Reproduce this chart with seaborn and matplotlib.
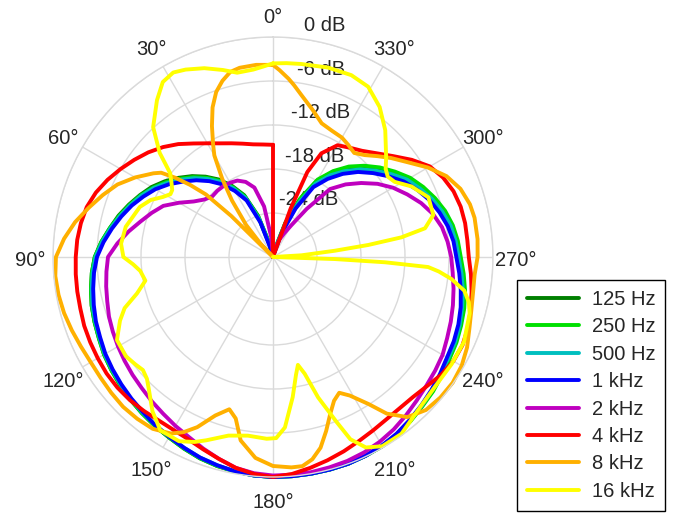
import numpy as np
import matplotlib
matplotlib.use("Agg")
import matplotlib.pyplot as plt
from matplotlib.transforms import offset_copy
import seaborn as sns

sns.set_style("white")
plt.rcParams["font.family"] = ["Liberation Sans", "DejaVu Sans"]

# polar response of the microphone, dB re. maximum, angle in degrees (counter-clockwise from top)
bands = ["125 Hz", "250 Hz", "500 Hz", "1 kHz", "2 kHz", "4 kHz", "8 kHz", "16 kHz"]
colors = ["#007f00", "#00e000", "#00bfbf", "#0000ff", "#bf00bf", "#ff0000", "#ffb000", "#ffff00"]

ang_5 = list(range(0, 360, 5))

db_125 = [-30, -30, -30, -28.0, -24.0, -20.7, -18.8, -17.1, -15.7, -14.4, -13.2, -12.0,
          -10.9, -10.0, -9.1, -8.2, -7.4, -6.5, -5.7, -5.2, -4.8, -4.4, -4.1, -3.8,
          -3.4, -3.1, -2.8, -2.5, -2.2, -1.9, -1.6, -1.2, -0.8, -0.5, -0.3, -0.1,
          0.0, 0.0, 0.0, 0.0, 0.0, -0.1, -0.2, -0.5, -0.9, -1.3, -1.6, -2.0,
          -2.3, -2.5, -2.8, -3.1, -3.6, -4.1, -4.6, -4.9, -5.3, -5.9, -6.7, -7.6,
          -8.6, -9.9, -11.2, -12.6, -14.1, -15.9, -18.0, -21.4, -25.2, -28.8, -30, -30]

db_250 = [-30, -30, -30, -28.2, -24.2, -20.9, -19.0, -17.3, -15.9, -14.6, -13.4, -12.2,
          -11.1, -10.1, -9.2, -8.3, -7.4, -6.5, -5.7, -5.2, -4.8, -4.4, -4.1, -3.8,
          -3.4, -3.1, -2.8, -2.5, -2.2, -1.9, -1.6, -1.2, -0.8, -0.5, -0.3, -0.1,
          0.0, 0.0, 0.0, 0.0, 0.0, -0.1, -0.2, -0.4, -0.8, -1.2, -1.5, -1.9,
          -2.2, -2.4, -2.7, -3.0, -3.4, -3.9, -4.4, -4.7, -5.1, -5.7, -6.5, -7.4,
          -8.4, -9.7, -11.0, -12.4, -13.9, -15.7, -17.8, -21.2, -25.0, -28.6, -30, -30]

db_500 = [-30, -30, -30, -28.5, -24.5, -21.1, -19.2, -17.5, -16.1, -14.8, -13.6, -12.4,
          -11.2, -10.2, -9.3, -8.4, -7.5, -6.6, -5.8, -5.3, -4.9, -4.5, -4.2, -3.9,
          -3.5, -3.2, -2.9, -2.6, -2.3, -2.0, -1.7, -1.3, -0.9, -0.6, -0.3, -0.1,
          0.0, 0.0, 0.0, 0.0, 0.0, -0.1, -0.3, -0.5, -0.9, -1.3, -1.7, -2.1,
          -2.4, -2.6, -2.9, -3.3, -3.7, -4.2, -4.7, -5.0, -5.4, -6.1, -6.9, -7.9,
          -8.9, -10.3, -11.7, -13.1, -14.7, -16.4, -18.5, -22.0, -25.8, -29.0, -30, -30]

db_1k = [-30, -30, -30, -29.0, -25.0, -21.5, -19.6, -17.9, -16.5, -15.2, -14.0, -12.7,
         -11.5, -10.5, -9.5, -8.6, -7.7, -6.8, -6.0, -5.5, -5.1, -4.7, -4.3, -4.0,
         -3.6, -3.3, -3.0, -2.7, -2.4, -2.0, -1.7, -1.3, -0.9, -0.6, -0.3, -0.1,
         0.0, 0.0, 0.0, 0.0, 0.0, -0.1, -0.3, -0.6, -1.0, -1.4, -1.8, -2.2,
         -2.6, -2.8, -3.1, -3.5, -4.0, -4.5, -5.0, -5.3, -5.8, -6.5, -7.3, -8.3,
         -9.4, -10.8, -12.2, -13.6, -15.2, -17.0, -19.0, -22.7, -26.5, -29.7, -30, -30]

db_2k = [-30, -27.3, -23.0, -20.2, -19.1, -18.5, -18.3, -18.2, -18.2, -18.3, -17.8, -16.8,
         -15.2, -13.5, -12.4, -11.3, -10.0, -8.7, -7.5, -7.2, -6.9, -6.6, -6.2, -5.9,
         -5.6, -5.3, -5.0, -4.7, -4.3, -3.9, -3.4, -2.9, -2.2, -1.5, -0.8, -0.4,
         -0.2, -0.2, -0.2, -0.3, -0.4, -0.6, -0.9, -1.3, -1.8, -2.3, -2.7, -3.0,
         -3.3, -3.8, -4.2, -4.6, -5.0, -5.4, -5.7, -6.1, -6.6, -7.4, -8.5, -9.8,
         -11.1, -12.6, -14.3, -16.0, -17.9, -22.0, -25.0, -26.5, -27.5, -28.7, -30, -30]

ang_4k = [0, 5, 10, 15, 20, 25, 30, 35, 40, 45, 50, 55, 60, 65, 70, 75, 80, 85, 90,
          95, 100, 105, 110, 115, 120, 125, 130, 135, 140, 145, 150, 155, 160, 165, 170, 175,
          180, 185, 190, 195, 200, 205, 210, 215, 220, 225, 230, 235, 240, 245, 250, 255,
          260, 265, 270, 275, 280, 285, 290, 295, 300, 305, 310, 315, 320, 325, 330, 335,
          338, 340, 342, 350, 355]
db_4k = [-14.7, -14.6, -14.4, -14.0, -13.5, -12.9, -12.1, -11.1, -9.9, -8.8, -7.8, -6.9,
         -6.0, -5.1, -4.3, -3.7, -3.4, -3.2, -3.1, -3.0, -2.9, -2.8, -2.6, -2.5,
         -2.4, -2.3, -2.3, -2.4, -2.6, -2.8, -2.8, -2.6, -2.1, -1.5, -0.8, -0.3,
         0.0, -0.3, -0.8, -1.3, -1.8, -2.3, -2.7, -3.0, -3.1, -3.0, -2.6, -2.0,
         -1.6, -1.5, -1.7, -2.1, -2.5, -2.9, -3.3, -3.4, -3.4, -3.5, -3.8, -4.4,
         -5.3, -6.9, -8.6, -10.0, -11.1, -11.8, -12.4, -14.4, -17.5, -23.0, -30, -30, -30]

ang_8k = [0, 5, 10, 13, 16, 19, 22, 25, 28, 30, 33, 36, 40, 43, 44.5, 45.5, 47, 49, 51, 53,
          55, 60, 65, 70, 75, 80, 85, 90, 95, 100, 105, 110, 115, 120, 125, 130, 135, 140,
          145, 150, 153, 156, 160, 164, 167, 170, 175, 180, 185, 188, 191, 194, 197, 200,
          203, 206, 209, 213, 216, 220, 225, 230, 235, 240, 245, 250, 255, 260, 265, 270,
          275, 281, 285, 290, 295, 300, 305, 310, 314, 318, 322, 326, 330, 335, 340, 345,
          350, 353, 355, 358]
db_8k = [-3.8, -3.7, -3.8, -4.1, -5.0, -6.2, -8.0, -10.3, -12.6, -14.0, -17.3, -20.5, -24.3,
         -27.5, -30, -22.0, -17.5, -15.0, -12.8, -10.9,
         -10.1, -8.3, -6.6, -5.3, -4.0, -2.6, -1.4, -0.4, -0.2, -0.3, -0.5, -0.8, -1.1, -1.3,
         -1.3, -1.2, -1.1, -1.2, -1.4, -2.2, -3.2, -4.6, -7.0, -8.4, -7.4, -4.6, -2.5, -1.5,
         -1.2, -1.2, -1.9, -3.2, -5.2, -7.2, -8.7, -9.4, -8.4, -6.1, -3.6, -1.5, -0.5, -0.2,
         -0.1, -0.3, -0.8, -1.5, -2.0, -2.3, -2.4, -2.1, -2.0, -2.0, -2.2, -2.8, -3.9, -5.6,
         -7.5, -9.0, -10.2, -11.3, -12.0, -11.6, -11.2, -11.0, -10.6, -9.2, -7.6, -6.4, -5.6,
         -4.5]

ang_16k = [0, 3, 6, 11, 15, 20, 25, 28.4, 32.2, 36.5, 42.7, 47.4, 50.8, 54, 56.4, 58.5,
           61.4, 65, 69.4, 78.4, 85, 90, 93, 96, 100.5, 105, 109, 112.6, 118, 124, 128, 131,
           134, 137, 142, 147, 153, 157, 160, 166, 172, 178, 181, 184, 188, 191, 193, 195.2,
           197.8, 201, 203, 206, 210, 216, 223, 231, 239, 246, 254, 257, 260, 263, 265,
           266.3, 267.3, 268.1, 268.8, 272, 273.4, 275.8, 277.2, 278.7, 280.7, 284.7, 291,
           297, 301.7, 305, 308, 311.5, 318.5, 324.6, 330.8, 336.7, 343.8, 351.7, 356]
db_16k = [-3.6, -4.0, -4.3, -4.4, -3.6, -2.6, -1.8, -1.4, -1.8, -3.4, -5.9, -9.0, -11.9,
          -12.9, -13.5, -13.6, -12.9, -11.6, -10.6, -9.5, -9.2, -9.6, -10.9, -11.8, -12.3,
          -10.8, -8.6, -7.4, -5.9, -5.8, -6.2, -6.5, -6.1, -5.2, -3.3, -1.8, -1.8, -2.6,
          -3.4, -4.9, -5.4, -5.2, -5.3, -6.7, -10.7, -13.6, -14.9, -13.5, -9.9, -6.0, -3.0,
          -1.1, -0.2, -0.2, -1.2, -1.7, -1.6, -1.5, -2.1, -2.6, -3.5, -5.5, -7.3, -8.8,
          -14.7, -21.6, -30, -30, -26.1, -21.5, -16.9, -12.3, -8.9, -7.4, -7.3, -8.8, -10.5,
          -10.9, -10.5, -9.4, -6.9, -4.9, -3.4, -3.0, -3.1, -3.4, -3.5]

series = [
    (ang_5, db_125), (ang_5, db_250), (ang_5, db_500), (ang_5, db_1k),
    (ang_5, db_2k), (ang_4k, db_4k), (ang_8k, db_8k), (ang_16k, db_16k),
]
r_ticks = [-24, -18, -12, -6, 0]
theta_ticks = list(range(0, 360, 30))

fig = plt.figure(figsize=(6.74, 5.15), dpi=100)
ax = fig.add_axes([53 / 674, 38 / 515, 440 / 674, 440 / 515], projection="polar")
ax.set_theta_zero_location("N")
ax.set_theta_direction(1)

for (ang, db), name, col in zip(series, bands, colors):
    # close each curve on its first point
    th = np.deg2rad(list(ang) + [ang[0] + 360])
    rr = list(db) + [db[0]]
    sns.lineplot(x=th, y=rr, sort=False, estimator=None, color=col, lw=2.8,
                 label=name, ax=ax, clip_on=False)

ax.set_rlim(-30, 0)
ax.set_yticks(r_ticks)
ax.set_yticklabels([])
ax.set_xticks(np.deg2rad(theta_ticks))
ax.set_xticklabels([])
ax.grid(True, color="#dadada", lw=1.0)
ax.spines["polar"].set_color("#dadada")
ax.spines["polar"].set_linewidth(1.0)
ax.set_xlabel("")
ax.set_ylabel("")

# angle labels just outside the rim, a touch below their radial position
lab_tr = offset_copy(ax.transData, fig=fig, y=-2.3, units="points")
for a in theta_ticks:
    ax.text(np.deg2rad(a), 3.1, f"{a}°", ha="center", va="center", fontsize=14.5,
            transform=lab_tr, clip_on=False)

# dB labels beside the 0° spoke
db_tr = offset_copy(ax.transData, fig=fig, y=3.0, units="points")
for v in r_ticks:
    ax.text(np.deg2rad(352), v, f"{v} dB", ha="left", va="bottom", fontsize=14.5,
            zorder=1, transform=db_tr, clip_on=False)

leg = ax.legend(loc="lower left", bbox_to_anchor=(517 / 674, 4 / 515),
                bbox_transform=fig.transFigure, fontsize=14.5, frameon=True,
                fancybox=False, edgecolor="black", framealpha=1, handlelength=2.6,
                handletextpad=0.6, labelspacing=0.42, borderpad=0.5, borderaxespad=0)
leg.get_frame().set_linewidth(1.0)

fig.savefig("out.png", dpi=100)
